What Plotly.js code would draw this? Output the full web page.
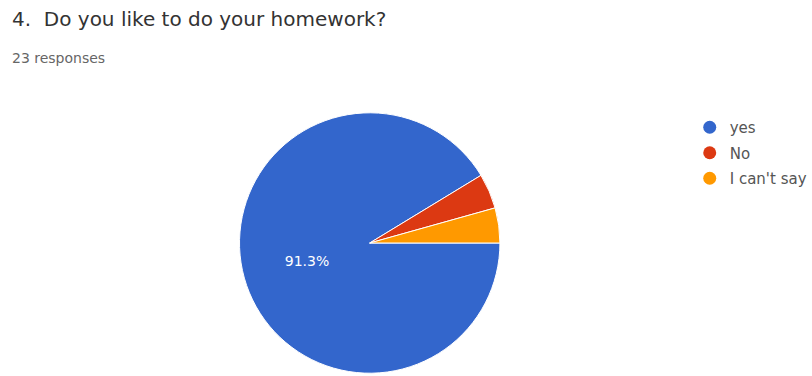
<!DOCTYPE html>
<html>
<head>
<meta charset="utf-8">
<script src="https://cdn.plot.ly/plotly-3.0.1.min.js"></script>
<style>html,body{margin:0;padding:0;background:#fff;}#chart{width:812px;height:376px;}</style>
</head>
<body>
<div id="chart"></div>
<script>
var categories = ["yes", "No", "I can't say"];
var counts = [21, 1, 1];
var colors = ["#3366cc", "#dc3912", "#ff9900"];
var labelTemplates = ["%{percent:.1%}", "", ""];
var titleText = "4.  Do you like to do your homework?";
var subtitleText = "23 responses";

var FONT = "'DejaVu Sans', Verdana, sans-serif";

var traces = [{
  type: "pie",
  labels: categories,
  values: counts,
  sort: false,
  direction: "clockwise",
  rotation: 90,
  marker: {colors: colors, line: {color: "#ffffff", width: 1}},
  texttemplate: labelTemplates,
  textposition: "inside",
  insidetextorientation: "horizontal",
  textfont: {color: "#ffffff", size: 14, family: FONT},
  hoverinfo: "label+percent",
  showlegend: false,
  domain: {x: [0.2968, 0.6195], y: [0.0053, 0.7021]}
}];
categories.forEach(function (c, i) {
  traces.push({
    type: "scatter", mode: "markers", x: [null], y: [null], name: c,
    legendgroup: "g" + i,
    marker: {symbol: "circle", size: 13, color: colors[i]},
    showlegend: true, hoverinfo: "skip"
  });
});

var layout = {
  width: 812, height: 376,
  margin: {l: 0, r: 0, t: 0, b: 0},
  paper_bgcolor: "#ffffff", plot_bgcolor: "#ffffff",
  xaxis: {visible: false}, yaxis: {visible: false},
  showlegend: true,
  legend: {
    x: 694/812, y: 1 - 111/376, xanchor: "left", yanchor: "top",
    font: {size: 15, color: "#555555", family: FONT},
    itemwidth: 30, tracegroupgap: 3, bgcolor: "rgba(0,0,0,0)"
  },
  annotations: [
    {text: titleText, xref: "paper", yref: "paper", x: 10/812, y: 1 - 5/376,
     xanchor: "left", yanchor: "top", showarrow: false,
     font: {size: 20, color: "#333333", family: FONT}},
    {text: subtitleText, xref: "paper", yref: "paper", x: 10/812, y: 1 - 48/376,
     xanchor: "left", yanchor: "top", showarrow: false,
     font: {size: 14, color: "#666666", family: FONT}}
  ]
};
Plotly.newPlot("chart", traces, layout, {displayModeBar: false, staticPlot: true});
</script>
</body>
</html>
